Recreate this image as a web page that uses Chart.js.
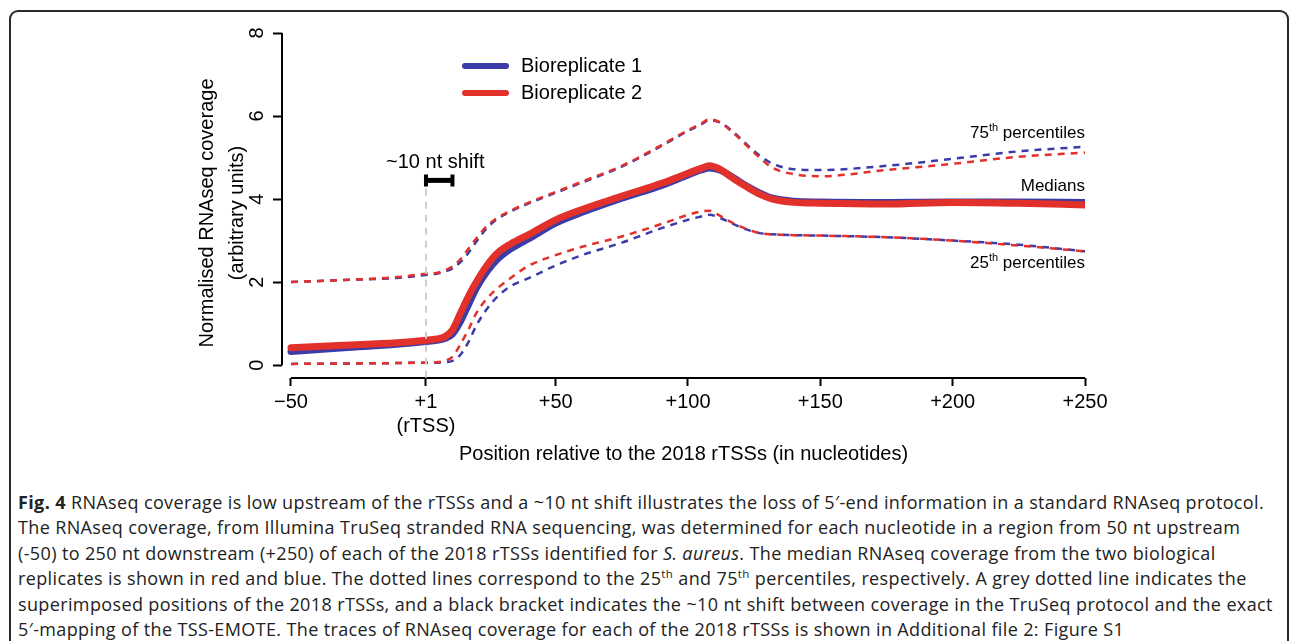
<!DOCTYPE html>
<html>
<head>
<meta charset="utf-8">
<script src="https://cdn.jsdelivr.net/npm/chart.js@4.4.1/dist/chart.umd.min.js"></script>
<style>
  html, body { margin: 0; padding: 0; background: #fff; width: 1290px; height: 641px; overflow: hidden; }
  #frame { position: absolute; left: 9px; top: 10px; width: 1276px; height: 700px; border: 2px solid #2a2a2a; border-bottom: none; border-radius: 9px 9px 0 0; }
  #wrap { position: absolute; left: 0; top: 0; width: 1290px; height: 475px; }
  #caption { position: absolute; left: 18px; top: 490px; font-family: "Open Sans", sans-serif; font-size: 18px; letter-spacing: 0.37px; line-height: 25.4px; color: #222; white-space: nowrap; }
  #caption sup { font-size: 11.5px; line-height: 0; }
</style>
</head>
<body>
<div id="frame"></div>
<div id="wrap"><canvas id="cov" width="1290" height="475"></canvas></div>
<div id="caption">
<b>Fig. 4</b> RNAseq coverage is low upstream of the rTSSs and a ~10 nt shift illustrates the loss of 5′-end information in a standard RNAseq protocol.<br>
The RNAseq coverage, from Illumina TruSeq stranded RNA sequencing, was determined for each nucleotide in a region from 50 nt upstream<br>
(-50) to 250 nt downstream (+250) of each of the 2018 rTSSs identified for <i>S. aureus</i>. The median RNAseq coverage from the two biological<br>
replicates is shown in red and blue. The dotted lines correspond to the 25<sup>th</sup> and 75<sup>th</sup> percentiles, respectively. A grey dotted line indicates the<br>
superimposed positions of the 2018 rTSSs, and a black bracket indicates the ~10 nt shift between coverage in the TruSeq protocol and the exact<br>
5′-mapping of the TSS-EMOTE. The traces of RNAseq coverage for each of the 2018 rTSSs is shown in Additional file 2: Figure S1
</div>
<script>
// positions relative to rTSS (nt)
var positions = [-50, -30, -10, 1, 5, 8, 11, 14, 17, 20, 24, 28, 33, 40, 50, 60, 75, 90, 100, 105, 108, 112, 117, 122, 127, 132, 140, 150, 175, 200, 225, 250];

var median1 = [0.33, 0.42, 0.50, 0.57, 0.60, 0.64, 0.75, 1.05, 1.45, 1.85, 2.25, 2.55, 2.80, 3.05, 3.42, 3.68, 4.02, 4.33, 4.58, 4.70, 4.75, 4.70, 4.52, 4.32, 4.15, 4.02, 3.95, 3.93, 3.92, 3.93, 3.93, 3.92];
var median2 = [0.42, 0.48, 0.54, 0.60, 0.63, 0.68, 0.85, 1.25, 1.65, 2.00, 2.40, 2.70, 2.92, 3.15, 3.50, 3.75, 4.07, 4.38, 4.62, 4.74, 4.80, 4.72, 4.50, 4.30, 4.12, 4.00, 3.92, 3.90, 3.88, 3.92, 3.90, 3.86];

var upper1 = [2.00, 2.05, 2.10, 2.17, 2.20, 2.25, 2.33, 2.48, 2.70, 2.97, 3.30, 3.52, 3.70, 3.90, 4.15, 4.40, 4.78, 5.28, 5.64, 5.80, 5.90, 5.85, 5.62, 5.33, 5.05, 4.85, 4.72, 4.70, 4.80, 4.97, 5.15, 5.26];
var upper2 = [2.00, 2.05, 2.12, 2.20, 2.22, 2.28, 2.38, 2.55, 2.80, 3.05, 3.35, 3.55, 3.72, 3.92, 4.17, 4.42, 4.80, 5.30, 5.66, 5.82, 5.92, 5.85, 5.60, 5.30, 5.00, 4.75, 4.60, 4.55, 4.70, 4.85, 5.02, 5.12];

var lower1 = [0.03, 0.04, 0.05, 0.06, 0.06, 0.07, 0.10, 0.25, 0.55, 0.95, 1.35, 1.65, 1.90, 2.10, 2.40, 2.65, 2.95, 3.30, 3.50, 3.58, 3.62, 3.55, 3.40, 3.27, 3.18, 3.15, 3.13, 3.12, 3.08, 3.00, 2.90, 2.74];
var lower2 = [0.03, 0.04, 0.05, 0.06, 0.07, 0.10, 0.20, 0.50, 0.85, 1.25, 1.60, 1.85, 2.10, 2.40, 2.65, 2.85, 3.10, 3.40, 3.62, 3.70, 3.72, 3.60, 3.42, 3.28, 3.18, 3.15, 3.13, 3.12, 3.08, 3.00, 2.88, 2.74];

var xTicks = [-50, 1, 50, 100, 150, 200, 250];
var yTicks = [0, 2, 4, 6, 8];
var seriesNames = ['Bioreplicate 1', 'Bioreplicate 2'];

var BLUE = '#3c3ca8', RED = '#e2302b';
var FONT = 'Liberation Sans, Arial, sans-serif';

var pts = (arr) => positions.map((p, i) => ({x: p, y: arr[i]}));

var dashed = (label, arr, color) => ({label, data: pts(arr), borderColor: color, borderWidth: 2.5, borderDash: [7, 6], pointRadius: 0, cubicInterpolationMode: 'monotone', fill: false});
var solid = (label, arr, color) => ({label, data: pts(arr), borderColor: color, borderWidth: 7, borderCapStyle: 'round', pointRadius: 0, cubicInterpolationMode: 'monotone', fill: false});

var annotations = {
    id: 'annotations',
    afterDraw(chart) {
        var ctx = chart.ctx, x = chart.scales.x, y = chart.scales.y, a = chart.chartArea;
        ctx.save();
        // axis lines, R style
        ctx.strokeStyle = '#000'; ctx.lineWidth = 2;
        ctx.beginPath();
        ctx.moveTo(x.getPixelForValue(-50), a.bottom); ctx.lineTo(x.getPixelForValue(250), a.bottom);
        ctx.moveTo(a.left, y.getPixelForValue(0)); ctx.lineTo(a.left, y.getPixelForValue(8));
        ctx.stroke();

        // grey rTSS line
        ctx.strokeStyle = '#cfcfcf'; ctx.lineWidth = 2; ctx.setLineDash([7, 6]);
        ctx.beginPath();
        ctx.moveTo(x.getPixelForValue(1), y.getPixelForValue(4.25));
        ctx.lineTo(x.getPixelForValue(1), a.bottom);
        ctx.stroke();
        ctx.setLineDash([]);

        // shift bracket
        var by = y.getPixelForValue(4.45), bx1 = x.getPixelForValue(1), bx2 = x.getPixelForValue(11);
        ctx.strokeStyle = '#000'; ctx.lineWidth = 5; ctx.lineCap = 'butt';
        ctx.beginPath(); ctx.moveTo(bx1, by); ctx.lineTo(bx2, by); ctx.stroke();
        ctx.lineWidth = 4;
        ctx.beginPath();
        ctx.moveTo(bx1, by - 6); ctx.lineTo(bx1, by + 6);
        ctx.moveTo(bx2, by - 6); ctx.lineTo(bx2, by + 6);
        ctx.stroke();
        ctx.fillStyle = '#000';
        ctx.font = '20px ' + FONT; ctx.textAlign = 'center'; ctx.textBaseline = 'middle';
        ctx.fillText('~10 nt shift', x.getPixelForValue(4.5), y.getPixelForValue(4.87));

        // y title
        ctx.save();
        ctx.translate(207, 213); ctx.rotate(-Math.PI / 2);
        ctx.fillText('Normalised RNAseq coverage', 0, 0);
        ctx.fillText('(arbitrary units)', 0, 30);
        ctx.restore();

        // legend
        [BLUE, RED].forEach((c, i) => {
            var ly = 66 + i * 27;
            ctx.strokeStyle = c; ctx.lineWidth = 6; ctx.lineCap = 'round';
            ctx.beginPath(); ctx.moveTo(465, ly); ctx.lineTo(506, ly); ctx.stroke();
            ctx.textAlign = 'left';
            ctx.fillText(seriesNames[i], 521, ly);
        });

        // right-hand labels
        var right = x.getPixelForValue(250);
        var sup = (num, rest, yy) => {
            ctx.font = '17px ' + FONT;
            var wRest = ctx.measureText(rest).width, wNum = ctx.measureText(num).width;
            ctx.font = '11px ' + FONT;
            var wSup = ctx.measureText('th').width;
            ctx.textAlign = 'left';
            var x0 = right - wRest - wSup - wNum;
            ctx.font = '17px ' + FONT;
            ctx.fillText(num, x0, yy);
            ctx.fillText(rest, right - wRest, yy);
            ctx.font = '11px ' + FONT;
            ctx.fillText('th', x0 + wNum, yy - 5);
        };
        ctx.textBaseline = 'middle';
        sup('75', ' percentiles', 133);
        ctx.font = '17px ' + FONT; ctx.textAlign = 'right';
        ctx.fillText('Medians', right, 186);
        sup('25', ' percentiles', 263);
        ctx.restore();
    }
};

// first dataset is drawn on top
new Chart(document.getElementById('cov'), {
    type: 'line',
    data: {
        datasets: [
            solid(seriesNames[1], median2, RED),
            solid(seriesNames[0], median1, BLUE),
            dashed('75th rep2', upper2, RED),
            dashed('75th rep1', upper1, BLUE),
            dashed('25th rep2', lower2, RED),
            dashed('25th rep1', lower1, BLUE)
        ]
    },
    options: {
        responsive: false,
        animation: false,
        maintainAspectRatio: false,
        layout: {padding: {top: 33, right: 205, left: 0, bottom: 0}},
        plugins: {legend: {display: false}, tooltip: {enabled: false}},
        scales: {
            x: {
                type: 'linear', min: -53.4, max: 250,
                afterBuildTicks: (s) => { s.ticks = xTicks.map((v) => ({value: v})); },
                afterFit: (s) => { s.height = 97; },
                border: {display: false},
                grid: {drawOnChartArea: false, drawTicks: true, tickLength: 8, tickColor: '#000', tickWidth: 2},
                ticks: {
                    color: '#000', font: {family: FONT, size: 20}, padding: 4, maxRotation: 0, autoSkip: false,
                    callback: (v) => v === -50 ? '\u221250' : v === 1 ? ['+1', '(rTSS)'] : '+' + v
                },
                title: {display: true, text: 'Position relative to the 2018 rTSSs (in nucleotides)', color: '#000', font: {family: FONT, size: 20}, padding: {top: 0, bottom: 9}}
            },
            y: {
                type: 'linear', min: -0.31, max: 8,
                afterBuildTicks: (s) => { s.ticks = yTicks.map((v) => ({value: v})); },
                afterFit: (s) => { s.width = 282; },
                border: {display: false},
                grid: {drawOnChartArea: false, drawTicks: true, tickLength: 9, tickColor: '#000', tickWidth: 2},
                ticks: {color: '#000', font: {family: FONT, size: 20}, padding: 10, crossAlign: 'center', minRotation: 90, maxRotation: 90}
            }
        }
    },
    plugins: [annotations]
});
</script>
</body>
</html>
